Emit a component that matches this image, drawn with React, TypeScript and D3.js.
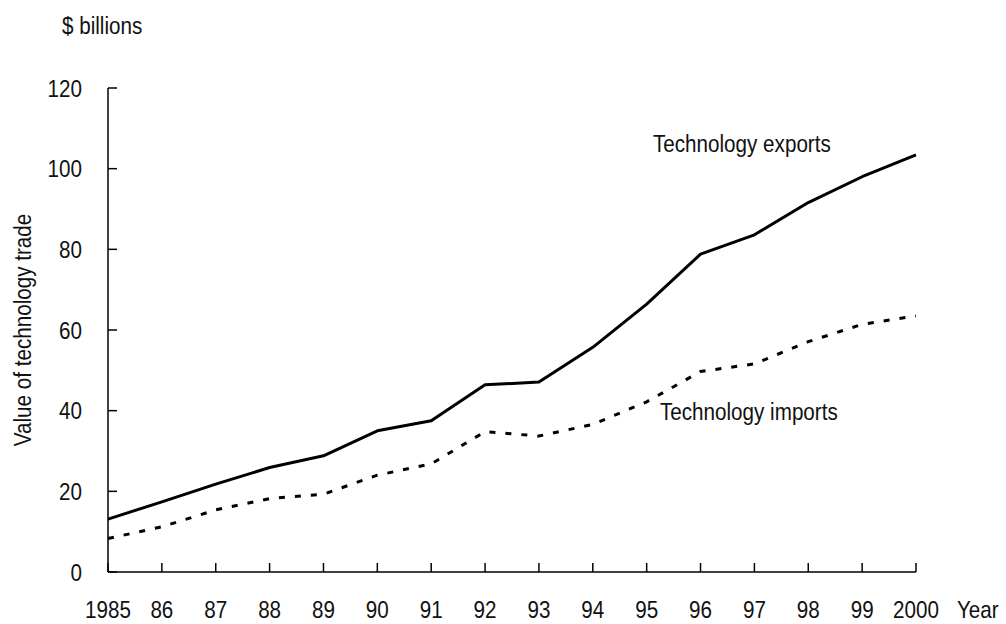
import React from "react";
import * as d3 from "d3";

const years = [1985, 1986, 1987, 1988, 1989, 1990, 1991, 1992, 1993, 1994, 1995, 1996, 1997, 1998, 1999, 2000];
const yearLabels = ["1985", "86", "87", "88", "89", "90", "91", "92", "93", "94", "95", "96", "97", "98", "99", "2000"];
const exportsValues = [13.1, 17.4, 21.8, 25.9, 28.8, 35.0, 37.5, 46.4, 47.1, 55.7, 66.4, 78.8, 83.6, 91.6, 98.0, 103.4];
const importsValues = [8.3, 11.2, 15.4, 18.2, 19.3, 24.0, 26.8, 34.8, 33.7, 36.6, 42.2, 49.7, 51.6, 57.1, 61.4, 63.5];
const yTicks = [0, 20, 40, 60, 80, 100, 120];

const W = 1006;
const H = 624;
const left = 108;
const right = 916;
const top = 88;
const bottom = 572;
const FONT = "'Liberation Sans', Arial, sans-serif";
const FS = 24;
const SX = 0.86;

function T(props: { x: number; y: number; anchor?: string; rotate?: number; dy?: string; children: React.ReactNode }) {
  const { x, y, anchor = "start", rotate = 0, dy, children } = props;
  return (
    <text
      transform={`translate(${x},${y}) rotate(${rotate}) scale(${SX},1)`}
      textAnchor={anchor}
      dy={dy}
      fill="#111"
    >
      {children}
    </text>
  );
}

export default function App() {
  const x = d3.scaleLinear().domain([1985, 2000]).range([left, right]);
  const y = d3.scaleLinear().domain([0, 120]).range([bottom, top]);
  const line = d3
    .line<number>()
    .x((_, i) => x(years[i]))
    .y((d) => y(d));

  return (
    <svg
      width={W}
      height={H}
      style={{ position: "fixed", top: 0, left: 0, background: "#fff" }}
      fontFamily={FONT}
      fontSize={FS}
    >
      <rect x={0} y={0} width={W} height={H} fill="#fff" />
      {/* y axis */}
      <line x1={left} x2={left} y1={y(120)} y2={y(0)} stroke="#000" strokeWidth={1.5} />
      {yTicks.map((t) => (
        <g key={t}>
          <line x1={left} x2={left + 9} y1={y(t)} y2={y(t)} stroke="#000" strokeWidth={1.5} />
          <T x={82} y={y(t)} dy="0.36em" anchor="end">
            {t}
          </T>
        </g>
      ))}
      {/* x axis */}
      <line x1={x(1985)} x2={x(2000)} y1={bottom} y2={bottom} stroke="#000" strokeWidth={1.5} />
      {years.map((yr, i) => (
        <g key={yr}>
          <line x1={x(yr)} x2={x(yr)} y1={bottom} y2={bottom - 9} stroke="#000" strokeWidth={1.5} />
          <T x={x(yr)} y={618} anchor="middle">
            {yearLabels[i]}
          </T>
        </g>
      ))}
      <T x={957} y={618}>Year</T>
      <T x={62} y={34}>$ billions</T>
      <T x={31} y={330} rotate={-90} anchor="middle">
        Value of technology trade
      </T>
      {/* lines */}
      <path d={line(exportsValues) || ""} fill="none" stroke="#000" strokeWidth={3} strokeLinejoin="round" />
      <path
        d={line(importsValues) || ""}
        fill="none"
        stroke="#000"
        strokeWidth={3}
        strokeDasharray="6,10"
      />
      <T x={653} y={152}>Technology exports</T>
      <T x={660} y={420}>Technology imports</T>
    </svg>
  );
}
